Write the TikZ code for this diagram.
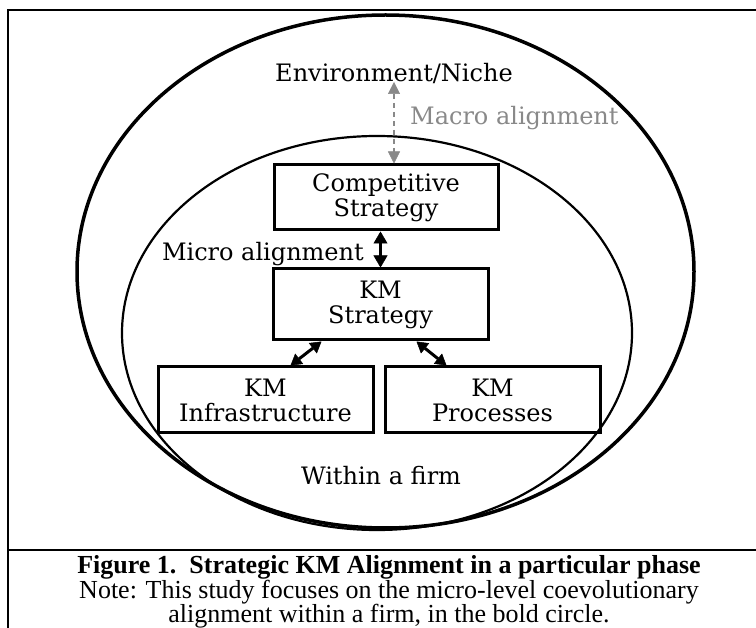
\documentclass[tikz,border=0pt]{standalone}
\usepackage{fontspec}
\setmainfont{DejaVu Serif}
\newfontfamily\capfont{Liberation Serif}
\usetikzlibrary{arrows.meta,calc}
\definecolor{mgray}{RGB}{137,137,137}
\begin{document}
\begin{tikzpicture}[x=1pt,y=-1pt,
  lbl/.style={font=\fontsize{24}{25}\selectfont, inner sep=0pt},
  kbox/.style={draw, line width=3pt, minimum width=215pt, minimum height=66pt, inner sep=0pt, align=center, font=\fontsize{24}{25}\selectfont},
  dbl/.style={line width=3pt, {Triangle[length=12pt,width=14pt,line width=0.5pt]}-{Triangle[length=12pt,width=14pt,line width=0.5pt]}},
  dbls/.style={line width=3pt, {Triangle[length=11pt,width=13pt,line width=0.5pt]}-{Triangle[length=11pt,width=13pt,line width=0.5pt]}},
  macroarrow/.style={draw=mgray, line width=1.5pt, dash pattern=on 5pt off 4pt, {Triangle[length=12pt,width=12pt,line width=0.5pt,fill=mgray]}-{Triangle[length=12pt,width=12pt,line width=0.5pt,fill=mgray]}},
  frameline/.style={line width=2pt},
  capl/.style={inner sep=0pt, anchor=base}]
\useasboundingbox (0,0) rectangle (756,628);
% frame
\coordinate (ftr) at (756,10);
\coordinate (ftl) at (8,10);
\coordinate (fbl) at (8,628);
\coordinate (fdl) at (8,550);
\coordinate (fdr) at (756,550);
\draw[frameline] (ftr) -- (ftl) -- (fbl);
\draw[frameline] (fdl) -- (fdr);
% ellipses
\draw[line width=3.5pt] (385.5,271.5) ellipse [x radius=308.5pt, y radius=256.5pt];
\draw[line width=2.2pt] (377,333) ellipse [x radius=255pt, y radius=197pt];
% texts
\node[lbl, anchor=base] (env) at (394,82) {Environment/Niche};
\node[lbl, anchor=base west, text=mgray] (macro) at (410,125) {Macro alignment};
\node[lbl, anchor=base east] (micro) at (364,261) {Micro alignment};
\node[lbl, anchor=base] (within) at (381,485) {Within a firm};
% boxes
\node[kbox, minimum width=224pt, minimum height=65pt] (comp) at (386,197.5) {Competitive\\Strategy};
\node[kbox, minimum height=71pt] (kms) at (380.5,304.5) {KM\\Strategy};
\node[kbox] (infra) at (265.5,400) {KM\\Infrastructure};
\node[kbox] (proc) at (492.5,400) {KM\\Processes};
% arrows
\draw[macroarrow] (env.base) -- (env.base |- comp.north);
\draw[dbl] (kms.north |- comp.south) -- (kms.north);
\draw[dbls] ($(kms.south west)+(50,0)$) -- ($(infra.north east)+(-84,0)$);
\draw[dbls] ($(kms.south east)+(-73,0)$) -- ($(proc.north west)+(63,0)$);
% caption
\node[capl, font=\capfont\bfseries\fontsize{26}{25}\selectfont] (cap1) at (389,573) {Figure 1.\ \ Strategic KM Alignment in a particular phase};
\node[capl, font=\capfont\fontsize{26}{25}\selectfont] (cap2) at (389,598) {Note: This study focuses on the micro-level coevolutionary};
\node[capl, font=\capfont\fontsize{26}{25}\selectfont] (cap3) at (389,623) {alignment within a firm, in the bold circle.};
\end{tikzpicture}
\end{document}
